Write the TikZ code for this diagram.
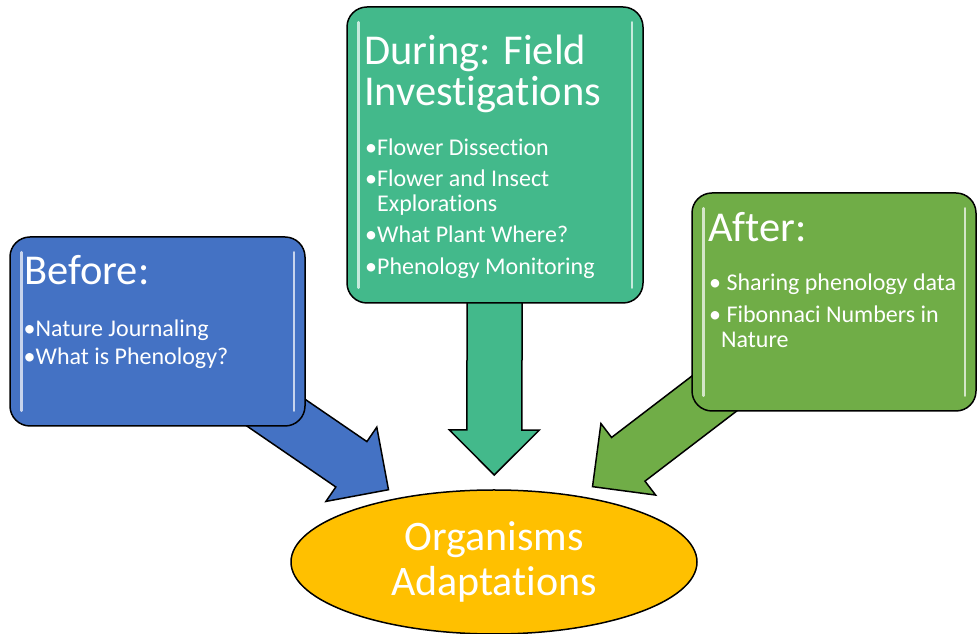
\documentclass[tikz,border=0pt]{standalone}
\usepackage{fontspec}
\setmainfont[Ligatures=NoCommon]{Carlito}
\usepackage{tikz}
\usetikzlibrary{calc, backgrounds, shapes.geometric}

\definecolor{blueB}{RGB}{68,114,196}
\definecolor{tealD}{RGB}{67,185,139}
\definecolor{greenA}{RGB}{112,173,71}
\definecolor{goldO}{RGB}{255,192,0}

% block arrow from a node centre to a named tip
\newcommand{\blockarrow}[3]{%
  \coordinate (#3-base) at ($(#3)!45pt!(#2)$);
  \draw[arrowbody, fill=#1] (#3)
    -- ($(#3-base)!45pt!90:(#3)$) -- ($(#3-base)!27.5pt!90:(#3)$)
    -- ($(#2)!27.5pt!90:(#3)$) -- ($(#2)!27.5pt!-90:(#3)$)
    -- ($(#3-base)!27.5pt!-90:(#3)$) -- ($(#3-base)!45pt!-90:(#3)$) -- cycle;
}

\begin{document}
\begin{tikzpicture}[x=1pt, y=1pt,
    stage/.style={draw=black, line width=1.5pt, rounded corners=20pt, inner sep=0pt},
    arrowbody/.style={draw=black, line width=1.5pt, line join=miter},
    glint/.style={draw=white, opacity=0.7, line width=2.5pt, line cap=round},
    title/.style={text=white, font=\fontsize{42.5}{41}\selectfont, anchor=base west, align=left, inner sep=0pt},
    item/.style={text=white, font=\fontsize{24}{25}\selectfont, anchor=base west, align=left, inner sep=0pt}]
  \useasboundingbox (0,0) rectangle (978,634);

  % the three stages and the goal
  \node[stage, fill=blueB, minimum width=295pt, minimum height=189pt] (before) at (157.5,302.5) {};
  \node[stage, fill=tealD, minimum width=296pt, minimum height=296pt] (during) at (495,479) {};
  \node[stage, fill=greenA, minimum width=284pt, minimum height=218pt] (after) at (834,332) {};
  \node[ellipse, draw=black, line width=1.5pt, fill=goldO, minimum width=406pt, minimum height=144pt,
        inner sep=0pt, text=white, align=center, font=\fontsize{42}{45}\selectfont] (org) at (494,72)
       {Organisms\\Adaptations};

  % light edges on the boxes
  \foreach \b in {before,during,after} {
    \draw[glint] ($(\b.north west)+(12,-16)$) -- ($(\b.south west)+(12,16)$);
    \draw[glint] ($(\b.north east)+(-12,-16)$) -- ($(\b.south east)+(-12,16)$);
  }

  % arrows into the goal
  \coordinate (tipB) at ($(before.center)!280pt!(org.center)$);
  \coordinate (tipD) at ($(during.center)!320pt!(org.center)$);
  \coordinate (tipA) at ($(after.center)!304pt!(org.center)$);
  \begin{scope}[on background layer]
    \blockarrow{blueB}{before.center}{tipB}
    \blockarrow{tealD}{during.center}{tipD}
    \blockarrow{greenA}{after.center}{tipA}
  \end{scope}

  % before
  \node[title] (beforeTitle) at (24,349) {Before:};
  \node[item] (beforeA) at (23.5,297) {•Nature Journaling};
  \node[item] (beforeB) at (23.5,269) {•What is Phenology?};

  % during (two-line nodes sit on their last line)
  \node[title] (duringTitle) at (364,528) {During: Field\\Investigations};
  \node[item] (duringA) at (365,478) {•Flower Dissection};
  \node[item] (duringB) at (365,422) {•Flower and Insect\\\phantom{•}Explorations};
  \node[item] (duringC) at (365,391) {•What Plant Where?};
  \node[item] (duringD) at (365,359) {•Phenology Monitoring};

  % after
  \node[title] (afterTitle) at (708,392) {After:};
  \node[item] (afterA) at (709,343) {• Sharing phenology data};
  \node[item] (afterB) at (709,286) {• Fibonnaci Numbers in\\\phantom{•}Nature};
\end{tikzpicture}
\end{document}
